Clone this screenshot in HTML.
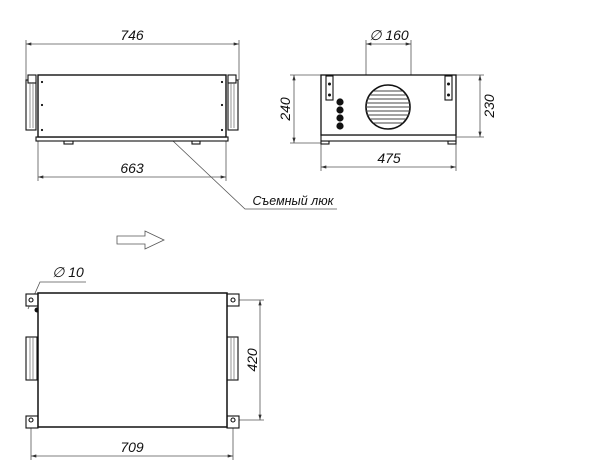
<!DOCTYPE html>
<html><head><meta charset="utf-8"><style>
html,body{margin:0;padding:0;background:#fff}
svg{display:block}
text{font-family:"Liberation Sans",sans-serif;font-style:italic;fill:#111}
</style></head><body>
<svg width="600" height="467" viewBox="0 0 600 467" xmlns="http://www.w3.org/2000/svg">
<defs>
<marker id="a" viewBox="0 0 10 6" refX="10" refY="3" markerWidth="8" markerHeight="4" orient="auto-start-reverse"><path d="M0,0L10,3L0,6z" fill="#333"/></marker>
</defs>
<g stroke="#555" stroke-width="0.8" fill="none">
<line x1="26" y1="40" x2="26" y2="80"/><line x1="239" y1="40" x2="239" y2="80"/>
<line x1="26" y1="44" x2="239" y2="44" marker-start="url(#a)" marker-end="url(#a)"/>
<line x1="38" y1="141" x2="38" y2="181"/><line x1="226" y1="141" x2="226" y2="181"/>
<line x1="38" y1="177" x2="226" y2="177" marker-start="url(#a)" marker-end="url(#a)"/>
<polyline points="173,141 245,209 337,209"/>
<line x1="366" y1="40" x2="366" y2="110"/><line x1="411" y1="40" x2="411" y2="110"/>
<line x1="366" y1="44" x2="411" y2="44" marker-start="url(#a)" marker-end="url(#a)"/>
<line x1="290" y1="75" x2="321" y2="75"/><line x1="290" y1="143" x2="321" y2="143"/>
<line x1="294" y1="75" x2="294" y2="143" marker-start="url(#a)" marker-end="url(#a)"/>
<line x1="456" y1="75" x2="484" y2="75"/><line x1="456" y1="137" x2="484" y2="137"/>
<line x1="480" y1="75" x2="480" y2="137" marker-start="url(#a)" marker-end="url(#a)"/>
<line x1="321" y1="141" x2="321" y2="171"/><line x1="456" y1="141" x2="456" y2="171"/>
<line x1="321" y1="167" x2="456" y2="167" marker-start="url(#a)" marker-end="url(#a)"/>
<line x1="239" y1="300" x2="264" y2="300"/><line x1="239" y1="420" x2="264" y2="420"/>
<line x1="260" y1="300" x2="260" y2="420" marker-start="url(#a)" marker-end="url(#a)"/>
<line x1="31" y1="427" x2="31" y2="460"/><line x1="233" y1="427" x2="233" y2="460"/>
<line x1="31" y1="456" x2="233" y2="456" marker-start="url(#a)" marker-end="url(#a)"/>
<polyline points="28,309 40,282 86,282"/>
</g>
<g stroke="#111" stroke-width="1.1" fill="#fff">
<rect x="26" y="80" width="10" height="50"/><rect x="228" y="80" width="10" height="50"/>
<rect x="28" y="75" width="8" height="8"/><rect x="228" y="75" width="8" height="8"/>
<rect x="64" y="141" width="9" height="3"/><rect x="192" y="141" width="8" height="3"/>
<rect x="36" y="137" width="192" height="4"/>
<rect x="38" y="75" width="188" height="62" stroke-width="1.4"/>
<rect x="321" y="141" width="8" height="3"/><rect x="448" y="141" width="8" height="3"/>
<rect x="321" y="135" width="135" height="6"/>
<rect x="321" y="75" width="135" height="60" stroke-width="1.3"/>
<rect x="326" y="76" width="7" height="24"/><rect x="445" y="76" width="7" height="24"/>
<circle cx="388" cy="107" r="22" stroke-width="1.6"/>
</g>
<g stroke="#666" stroke-width="0.7">
<line x1="30" y1="82" x2="30" y2="128"/><line x1="33" y1="82" x2="33" y2="128"/><line x1="231" y1="82" x2="231" y2="128"/><line x1="234" y1="82" x2="234" y2="128"/>
</g>
<g stroke="#444" stroke-width="0.9">
<line x1="370" y1="95" x2="406" y2="95"/><line x1="367" y1="99" x2="409" y2="99"/><line x1="366" y1="103" x2="410" y2="103"/>
<line x1="366" y1="107" x2="410" y2="107"/><line x1="366" y1="111" x2="410" y2="111"/><line x1="367" y1="115" x2="409" y2="115"/><line x1="370" y1="119" x2="406" y2="119"/><line x1="374" y1="123" x2="402" y2="123"/><line x1="374" y1="91" x2="402" y2="91"/>
</g>
<g fill="#111">
<circle cx="340" cy="102" r="3.6"/><circle cx="340" cy="110" r="3.6"/><circle cx="340" cy="118" r="3.6"/><circle cx="340" cy="126" r="3.6"/>
<circle cx="329.5" cy="84" r="1.5"/><circle cx="329.5" cy="95" r="1.5"/><circle cx="448.5" cy="84" r="1.5"/><circle cx="448.5" cy="95" r="1.5"/>
<circle cx="42" cy="82" r="1.1"/><circle cx="42" cy="105" r="1.1"/><circle cx="42" cy="130" r="1.1"/>
<circle cx="222" cy="82" r="1.1"/><circle cx="222" cy="105" r="1.1"/><circle cx="222" cy="130" r="1.1"/>
<circle cx="42" cy="304" r="1.1"/><circle cx="42" cy="341" r="1.1"/><circle cx="42" cy="378" r="1.1"/><circle cx="42" cy="415" r="1.1"/>
<circle cx="222" cy="304" r="1.1"/><circle cx="222" cy="341" r="1.1"/><circle cx="222" cy="378" r="1.1"/><circle cx="222" cy="415" r="1.1"/>
<circle cx="37" cy="310" r="2.5"/>
</g>
<g stroke="#111" stroke-width="1.1" fill="#fff">
<rect x="26" y="337" width="11" height="43"/><rect x="227" y="337" width="11" height="43"/>
<rect x="26" y="294" width="12" height="12"/><rect x="26" y="416" width="12" height="12"/>
<rect x="227" y="294" width="12" height="12"/><rect x="227" y="416" width="12" height="12"/>
<circle cx="31" cy="300" r="2"/><circle cx="31" cy="420" r="2"/><circle cx="233" cy="300" r="2"/><circle cx="233" cy="420" r="2"/>
<rect x="38" y="293" width="189" height="134" stroke-width="1.5"/>
</g>
<g stroke="#666" stroke-width="0.7"><line x1="30" y1="337" x2="30" y2="380"/><line x1="33" y1="337" x2="33" y2="380"/><line x1="231" y1="337" x2="231" y2="380"/><line x1="234" y1="337" x2="234" y2="380"/></g>
<path d="M117,236H145V231L164,240L145,249V244H117Z" fill="#fff" stroke="#555" stroke-width="0.8"/>
<text x="132" y="40" font-size="14" text-anchor="middle">746</text>
<text x="132" y="173" font-size="14" text-anchor="middle">663</text>
<text x="293" y="205" font-size="12.5" text-anchor="middle">Съемный люк</text>
<text x="389" y="40" font-size="14" text-anchor="middle">∅ 160</text>
<text x="389" y="163" font-size="14" text-anchor="middle">475</text>
<text transform="translate(290,109) rotate(-90)" font-size="14" text-anchor="middle">240</text>
<text transform="translate(494,106) rotate(-90)" font-size="14" text-anchor="middle">230</text>
<text x="68" y="277" font-size="14" text-anchor="middle">∅ 10</text>
<text transform="translate(257,360) rotate(-90)" font-size="14" text-anchor="middle">420</text>
<text x="132" y="452" font-size="14" text-anchor="middle">709</text>
</svg>
</body></html>
